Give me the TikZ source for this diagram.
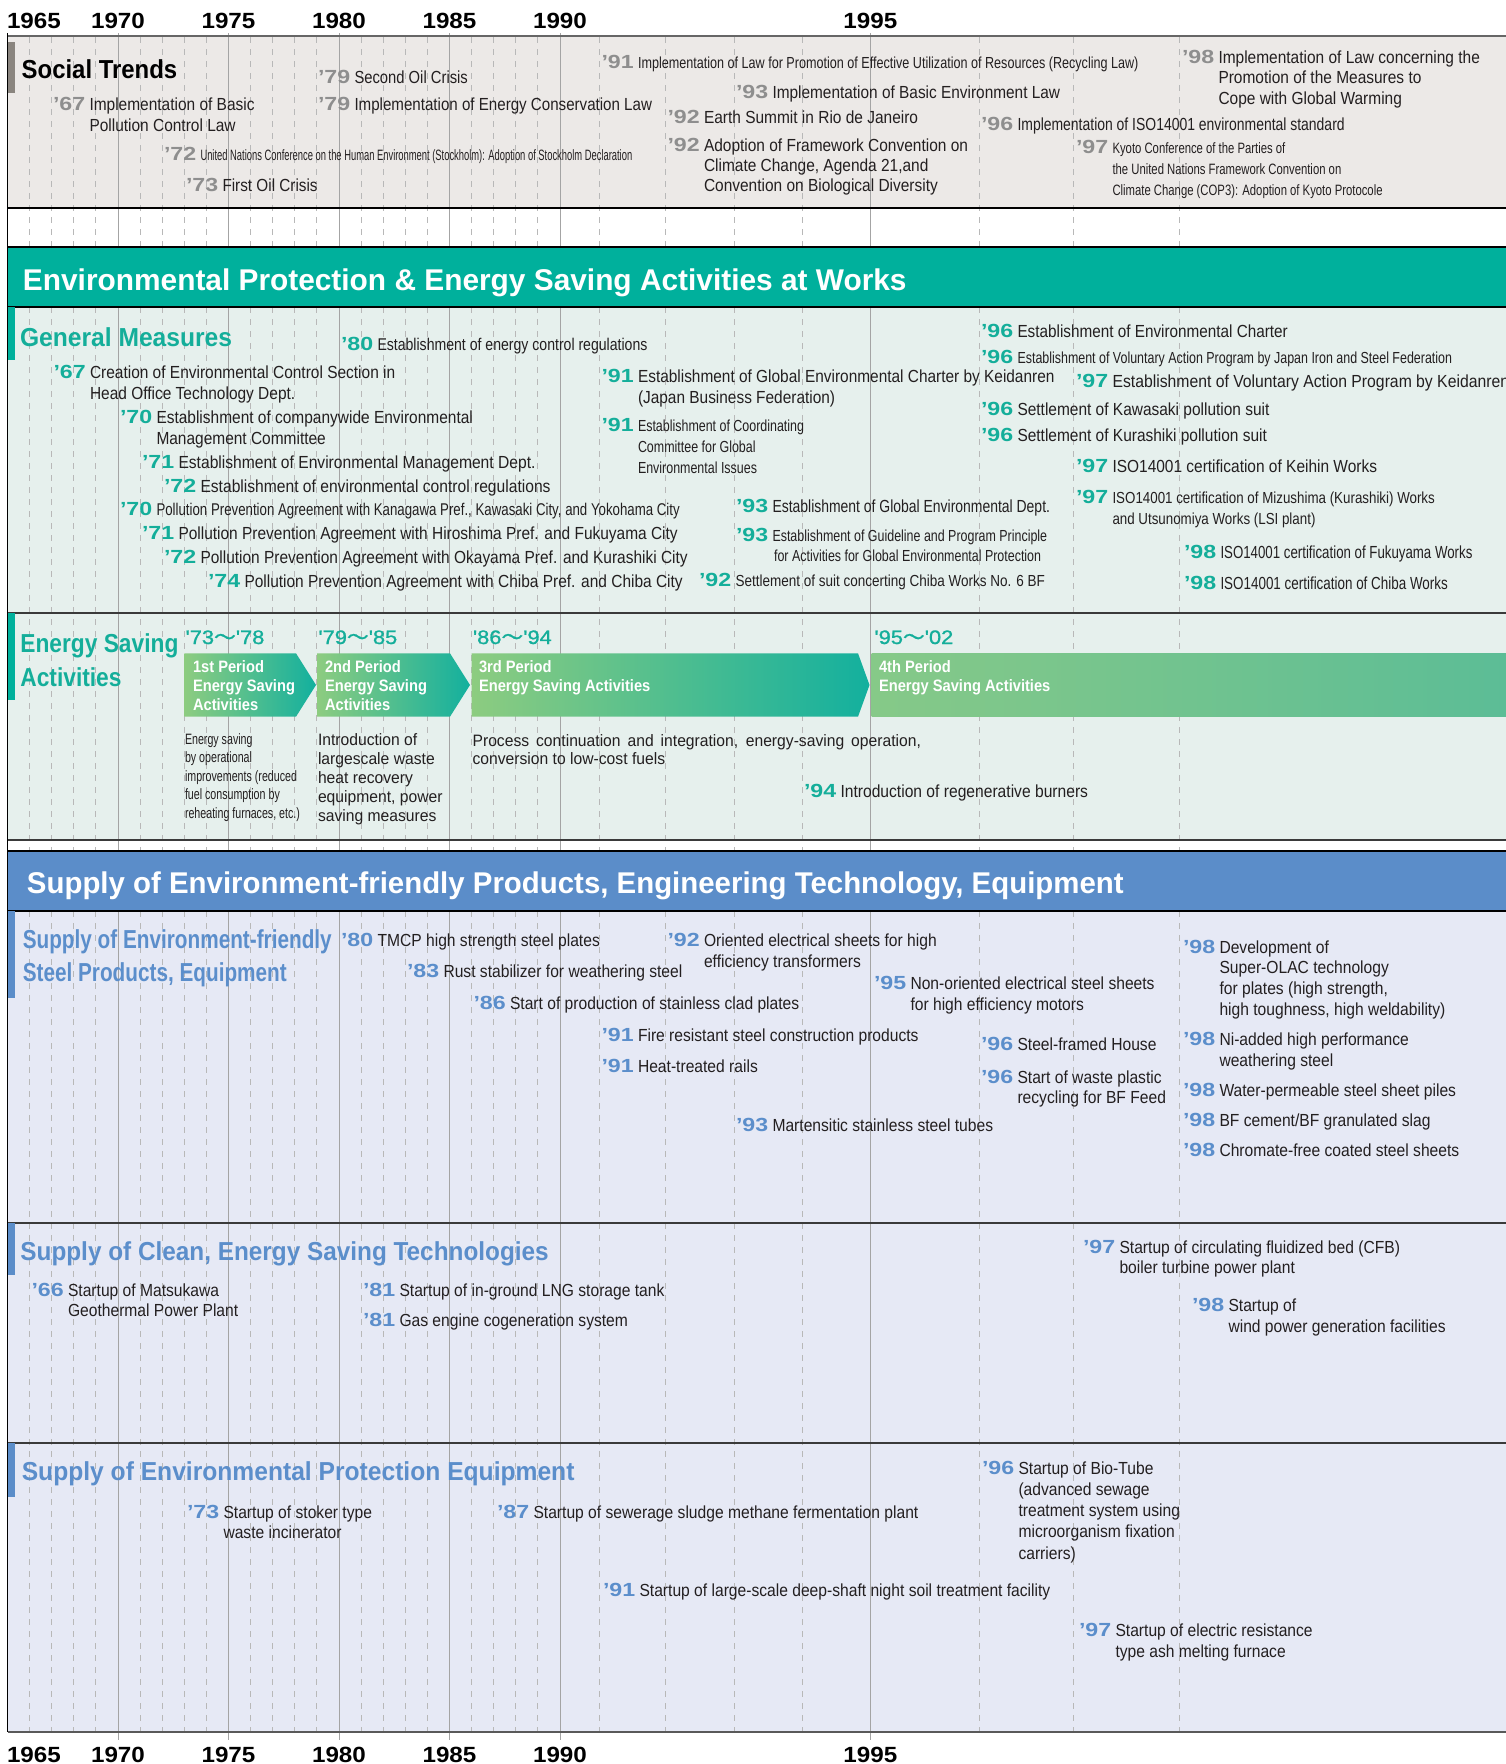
\documentclass[tikz,border=0pt]{standalone}
\usepackage{fontspec}
\usepackage{graphicx}
\setmainfont{Liberation Sans}
\newfontfamily\cjk{Noto Sans CJK JP}[FakeBold=1]
\newfontfamily\lbf{Liberation Sans}[FakeBold=1]
\definecolor{stbg}{HTML}{ECE9E7}
\definecolor{gnbg}{HTML}{E6F0ED}
\definecolor{blbg}{HTML}{E6E9F5}
\definecolor{tealhd}{HTML}{00B09C}
\definecolor{bluehd}{HTML}{5B8DC9}
\definecolor{tealtx}{HTML}{14AE9A}
\definecolor{bluetx}{HTML}{5B8ECB}
\definecolor{graypf}{HTML}{8E8E8E}
\definecolor{gridc}{HTML}{B8B8B8}
\definecolor{ylinec}{HTML}{A4A4A4}
\definecolor{stbar}{HTML}{8A857F}
\definecolor{txt}{HTML}{231F20}
\definecolor{sepc}{HTML}{3A3A3A}
\definecolor{agl}{HTML}{8DCC80}
\definecolor{agr}{HTML}{13B09E}
\definecolor{agl4}{HTML}{86C988}
\definecolor{agr4}{HTML}{5CBD96}
\newcommand\pfx[2]{\makebox[36.5pt][l]{\textcolor{#1}{\scalebox{1.22}[1]{\fontsize{19}{20}\selectfont\bfseries ’#2}}}}
\newcommand\evlines[4]{\scalebox{#3}[1]{\fontsize{#1}{#2}\selectfont\color{txt}\begin{tabular}[t]{@{}l@{}}#4\end{tabular}}}
\newcommand\evt[6]{\pfx{#1}{#2}\evlines{#3}{#4}{#5}{#6}}
\newcommand\ttl[4]{\scalebox{#2}[1]{\fontsize{26}{#3}\selectfont\bfseries\color{#1}\begin{tabular}[t]{@{}l@{}}#4\end{tabular}}}
\newcommand\yrl[1]{\scalebox{1.1}[1]{\fontsize{22}{24}\selectfont\bfseries #1}}
\newcommand\per[2]{\textcolor{tealtx}{\scalebox{1.12}[1]{\fontsize{19.5}{20}\selectfont\lbf '#1{\cjk ～}'#2}}}
\newcommand\arrtxt[1]{\scalebox{0.89}[1]{\fontsize{16.5}{19}\selectfont\bfseries\color{white}\begin{tabular}[t]{@{}l@{}}#1\end{tabular}}}
\tikzset{
  dgrid/.style={draw=gridc, line width=0.9pt, dash pattern=on 6pt off 6pt},
  sgrid/.style={draw=ylinec, line width=1pt},
  evn/.style={anchor=base west, inner sep=0pt, outer sep=0pt},
  yrn/.style={anchor=base, inner sep=0pt, outer sep=0pt},
  sepline/.style={line width=1.2pt, draw=sepc},
}
\begin{document}
\begin{tikzpicture}[x=1pt,y=-1pt]
\useasboundingbox (0,0) rectangle (1506,1764);
\clip (0,0) rectangle (1506,1764);
\fill[white] (0,0) rectangle (1506,1764);
% backgrounds
\fill[stbg] (7.5,36) rectangle (1506,208);
\fill[gnbg] (7.5,307) rectangle (1506,840);
\fill[blbg] (7.5,911) rectangle (1506,1732);
% grid
\foreach \x in {29.6,51.7,73.8,95.9,140.1,162.2,184.3,206.4,250.6,272.7,294.8,316.9,361.1,383.2,405.3,427.4,471.6,493.7,515.8,537.9,599.6,665.5,734,802,979,1073.7,1179.6}{
  \draw[dgrid] (\x,37) -- (\x,247) (\x,307) -- (\x,851) (\x,911) -- (\x,1732);
}
\foreach \x in {118,228.5,339,449.5,560,870.4}{
  \draw[sgrid] (\x,33) -- (\x,247) (\x,307) -- (\x,851) (\x,911) -- (\x,1740);
}
% header bands
\fill[tealhd] (7.5,247) rectangle (1506,307);
\fill[bluehd] (7.5,851) rectangle (1506,911);
% separators
\draw[line width=1.6pt, draw=black!60] (7.5,36) -- (1506,36);
\draw[sepline, draw=black] (7.5,208) -- (1506,208);
\draw[sepline, draw=black] (7.5,247) -- (1506,247);
\draw[sepline, draw=black] (7.5,307) -- (1506,307);
\draw[sepline] (7.5,613) -- (1506,613);
\draw[sepline] (7.5,840) -- (1506,840);
\draw[sepline, draw=black] (7.5,851) -- (1506,851);
\draw[sepline, draw=black] (7.5,911) -- (1506,911);
\draw[sepline] (7.5,1223) -- (1506,1223);
\draw[sepline] (7.5,1443) -- (1506,1443);
\draw[line width=2.4pt, draw=black!65] (7.5,1732) -- (1506,1732);
% accent bars
\fill[stbar] (7.5,41.7) rectangle (15,93.3);
\fill[tealhd] (7.5,307) rectangle (14.5,360);
\fill[tealhd] (7.5,613) rectangle (14.5,700);
\fill[bluehd] (7.5,911) rectangle (14.5,998);
\fill[bluehd] (7.5,1223) rectangle (14.5,1275);
\fill[bluehd] (7.5,1443) rectangle (14.5,1497);
% left border
\draw[line width=1.3pt, draw=black] (7.5,33) -- (7.5,1732);
% year labels
\node[evn] (ty65) at (7,28.3) {\yrl{1965}};
\node[yrn] (ty70) at (118,28.3) {\yrl{1970}};
\node[yrn] (ty75) at (228.5,28.3) {\yrl{1975}};
\node[yrn] (ty80) at (339,28.3) {\yrl{1980}};
\node[yrn] (ty85) at (449.5,28.3) {\yrl{1985}};
\node[yrn] (ty90) at (560,28.3) {\yrl{1990}};
\node[yrn] (ty95) at (870.4,28.3) {\yrl{1995}};
\node[evn] (by65) at (7,1762) {\yrl{1965}};
\node[yrn] (by70) at (118,1762) {\yrl{1970}};
\node[yrn] (by75) at (228.5,1762) {\yrl{1975}};
\node[yrn] (by80) at (339,1762) {\yrl{1980}};
\node[yrn] (by85) at (449.5,1762) {\yrl{1985}};
\node[yrn] (by90) at (560,1762) {\yrl{1990}};
\node[yrn] (by95) at (870.4,1762) {\yrl{1995}};
% headers
\node[evn] (hd1) at (23,290) {\scalebox{0.995}[1]{\fontsize{30}{32}\selectfont\bfseries\color{white}Environmental Protection \& Energy Saving Activities at Works}};
\node[evn] (hd2) at (27,893) {\scalebox{0.98}[1]{\fontsize{30}{32}\selectfont\bfseries\color{white}Supply of Environment-friendly Products, Engineering Technology, Equipment}};
% titles
\node[evn] (tST) at (21.7,78.3) {\ttl{black}{0.92}{30}{Social Trends}};
\node[evn] (tGM) at (20,346) {\ttl{tealtx}{0.947}{30}{General Measures}};
\node[evn] (tES) at (20.4,652.7) {\ttl{tealtx}{0.875}{33.5}{Energy Saving\\Activities}};
\node[evn] (tSP) at (22.8,948.3) {\ttl{bluetx}{0.798}{33.4}{Supply of Environment-friendly\\Steel Products, Equipment}};
\node[evn] (tCT) at (20.4,1260) {\ttl{bluetx}{0.936}{30}{Supply of Clean, Energy Saving Technologies}};
\node[evn] (tEP) at (21.8,1480.7) {\ttl{bluetx}{0.947}{30}{Supply of Environmental Protection Equipment}};
% Social trends
\node[evn] (s91) at (601.5,68) {\evt{graypf}{91}{16}{18}{0.7875}{Implementation of Law for Promotion of Effective Utilization of Resources (Recycling Law)}};
\node[evn] (s79a) at (318,83.3) {\evt{graypf}{79}{17.5}{20.5}{0.845}{Second Oil Crisis}};
\node[evn] (s67) at (53,110.7) {\evt{graypf}{67}{17.5}{20.3}{0.884}{Implementation of Basic\\Pollution Control Law}};
\node[evn] (s79b) at (318,110.7) {\evt{graypf}{79}{17.5}{20.5}{0.864}{Implementation of Energy Conservation Law}};
\node[evn] (s72) at (164,160) {\evt{graypf}{72}{15}{16}{0.625}{United Nations Conference on the Human Environment (Stockholm): Adoption of Stockholm Declaration}};
\node[evn] (s73) at (186,191) {\evt{graypf}{73}{17.5}{20}{0.874}{First Oil Crisis}};
\node[evn] (s93) at (736,98) {\evt{graypf}{93}{17.5}{20}{0.88}{Implementation of Basic Environment Law}};
\node[evn] (s92a) at (667.5,123) {\evt{graypf}{92}{17.5}{20}{0.884}{Earth Summit in Rio de Janeiro}};
\node[evn] (s92b) at (667.5,151) {\evt{graypf}{92}{17.5}{20}{0.884}{Adoption of Framework Convention on\\Climate Change, Agenda 21,and\\Convention on Biological Diversity}};
\node[evn] (s96) at (981,130) {\evt{graypf}{96}{17.5}{20}{0.797}{Implementation of ISO14001 environmental standard}};
\node[evn] (s97) at (1076,153) {\evt{graypf}{97}{15}{21.3}{0.754}{Kyoto Conference of the Parties of\\the United Nations Framework Convention on\\Climate Change (COP3): Adoption of Kyoto Protocole}};
\node[evn] (s98) at (1182,63) {\evt{graypf}{98}{17.5}{20.7}{0.884}{Implementation of Law concerning the\\Promotion of the Measures to\\Cope with Global Warming}};
% General measures
\node[evn] (g80) at (341,350) {\evt{tealtx}{80}{17}{20}{0.828}{Establishment of energy control regulations}};
\node[evn] (g67) at (53.5,378) {\evt{tealtx}{67}{17.5}{21}{0.884}{Creation of Environmental Control Section in\\Head Office Technology Dept.}};
\node[evn] (g70a) at (120,423.5) {\evt{tealtx}{70}{17.5}{20.5}{0.884}{Establishment of companywide Environmental\\Management Committee}};
\node[evn] (g71a) at (142,468) {\evt{tealtx}{71}{17.5}{20}{0.893}{Establishment of Environmental Management Dept.}};
\node[evn] (g72a) at (164,492) {\evt{tealtx}{72}{17.5}{20}{0.893}{Establishment of environmental control regulations}};
\node[evn] (g70b) at (120,515) {\evt{tealtx}{70}{17}{20}{0.78}{Pollution Prevention Agreement with Kanagawa Pref., Kawasaki City, and Yokohama City}};
\node[evn] (g71b) at (142,539) {\evt{tealtx}{71}{17.5}{20}{0.884}{Pollution Prevention Agreement with Hiroshima Pref. and Fukuyama City}};
\node[evn] (g72b) at (164,563) {\evt{tealtx}{72}{17.5}{20}{0.884}{Pollution Prevention Agreement with Okayama Pref. and Kurashiki City}};
\node[evn] (g74) at (208,587) {\evt{tealtx}{74}{17.5}{20}{0.884}{Pollution Prevention Agreement with Chiba Pref. and Chiba City}};
\node[evn] (g91a) at (601.5,382) {\evt{tealtx}{91}{17.5}{21.3}{0.881}{Establishment of Global Environmental Charter by Keidanren\\(Japan Business Federation)}};
\node[evn] (g91b) at (601.5,431.5) {\evt{tealtx}{91}{16}{21}{0.778}{Establishment of Coordinating\\Committee for Global\\Environmental Issues}};
\node[evn] (g93a) at (736,512) {\evt{tealtx}{93}{17.5}{20}{0.797}{Establishment of Global Environmental Dept.}};
\node[evn] (g93b) at (736,541) {\evt{tealtx}{93}{16}{20.5}{0.778}{Establishment of Guideline and Program Principle\\\hspace{2pt}for Activities for Global Environmental Protection}};
\node[evn] (g92) at (699,586.5) {\evt{tealtx}{92}{16}{20}{0.844}{Settlement of suit concerting Chiba Works No. 6 BF}};
\node[evn] (g96a) at (981,337.5) {\evt{tealtx}{96}{17.5}{20}{0.874}{Establishment of Environmental Charter}};
\node[evn] (g96b) at (981,363) {\evt{tealtx}{96}{16}{20}{0.778}{Establishment of Voluntary Action Program by Japan Iron and Steel Federation}};
\node[evn] (g97a) at (1076,387.3) {\evt{tealtx}{97}{17.5}{20}{0.9}{Establishment of Voluntary Action Program by Keidanren}};
\node[evn] (g96c) at (981,415) {\evt{tealtx}{96}{17.5}{20}{0.884}{Settlement of Kawasaki pollution suit}};
\node[evn] (g96d) at (981,441) {\evt{tealtx}{96}{17.5}{20}{0.884}{Settlement of Kurashiki pollution suit}};
\node[evn] (g97b) at (1076,472.7) {\evt{tealtx}{97}{17.5}{20}{0.884}{ISO14001 certification of Keihin Works}};
\node[evn] (g97c) at (1076,503.5) {\evt{tealtx}{97}{16}{21}{0.834}{ISO14001 certification of Mizushima (Kurashiki) Works\\and Utsunomiya Works (LSI plant)}};
\node[evn] (g98a) at (1184,558.3) {\evt{tealtx}{98}{17.5}{20}{0.758}{ISO14001 certification of Fukuyama Works}};
\node[evn] (g98b) at (1184,589.3) {\evt{tealtx}{98}{17.5}{20}{0.767}{ISO14001 certification of Chiba Works}};
% Energy saving arrows
\shade[left color=agl, right color=agr] (184.3,653.3) -- (296,653.3) -- (316,685) -- (296,716.7) -- (184.3,716.7) -- cycle;
\shade[left color=agl, right color=agr] (317,653.3) -- (450,653.3) -- (470,685) -- (450,716.7) -- (317,716.7) -- cycle;
\shade[left color=agl, right color=agr] (471.6,653.3) -- (858,653.3) -- (869.5,685) -- (858,716.7) -- (471.6,716.7) -- cycle;
\shade[left color=agl4, right color=agr4] (871.5,653.3) rectangle (1506,716.7);
\node[evn] (p1l) at (185.6,644) {\per{73}{78}};
\node[evn] (p2l) at (318.5,644) {\per{79}{85}};
\node[evn] (p3l) at (473,644) {\per{86}{94}};
\node[evn] (p4l) at (874.5,644) {\per{95}{02}};
\node[evn] (a1t) at (193,672) {\arrtxt{1st Period\\Energy Saving\\Activities}};
\node[evn] (a2t) at (325,672) {\arrtxt{2nd Period\\Energy Saving\\Activities}};
\node[evn] (a3t) at (479,672) {\arrtxt{3rd Period\\Energy Saving Activities}};
\node[evn] (a4t) at (879,672) {\arrtxt{4th Period\\Energy Saving Activities}};
\node[evn] (d1) at (185,744) {\evlines{15}{18.5}{0.711}{Energy saving\\by operational\\improvements (reduced\\fuel consumption by\\reheating furnaces, etc.)}};
\node[evn] (d2) at (318,745.5) {\evlines{16.5}{19}{0.95}{Introduction of\\largescale waste\\heat recovery\\equipment, power\\saving measures}};
\node[evn] (d3) at (472.6,746) {\evlines{16.5}{18}{0.95}{\makebox[472pt][s]{Process continuation and integration, energy-saving operation,}\\conversion to low-cost fuels}};
\node[evn] (e94) at (804,797) {\evt{tealtx}{94}{17.5}{20}{0.893}{Introduction of regenerative burners}};
% Products
\node[evn] (p80) at (341,946) {\evt{bluetx}{80}{17.5}{20}{0.893}{TMCP high strength steel plates}};
\node[evn] (p83) at (407,977) {\evt{bluetx}{83}{17.5}{20}{0.893}{Rust stabilizer for weathering steel}};
\node[evn] (p86) at (473.5,1009) {\evt{bluetx}{86}{17.5}{20}{0.893}{Start of production of stainless clad plates}};
\node[evn] (p91a) at (601.5,1041) {\evt{bluetx}{91}{17.5}{20}{0.893}{Fire resistant steel construction products}};
\node[evn] (p91b) at (601.5,1072.5) {\evt{bluetx}{91}{17.5}{20}{0.893}{Heat-treated rails}};
\node[evn] (p93) at (736,1131.5) {\evt{bluetx}{93}{17.5}{20}{0.893}{Martensitic stainless steel tubes}};
\node[evn] (p92) at (667.5,946) {\evt{bluetx}{92}{17.5}{21}{0.893}{Oriented electrical sheets for high\\efficiency transformers}};
\node[evn] (p95) at (874,989) {\evt{bluetx}{95}{17.5}{21}{0.893}{Non-oriented electrical steel sheets\\for high efficiency motors}};
\node[evn] (p96a) at (981,1050.5) {\evt{bluetx}{96}{17.5}{20}{0.893}{Steel-framed House}};
\node[evn] (p96b) at (981,1083) {\evt{bluetx}{96}{17.5}{20}{0.893}{Start of waste plastic\\recycling for BF Feed}};
\node[evn] (p98a) at (1183,953) {\evt{bluetx}{98}{17.5}{20.8}{0.893}{Development of\\Super-OLAC technology\\for plates (high strength,\\high toughness, high weldability)}};
\node[evn] (p98b) at (1183,1045.5) {\evt{bluetx}{98}{17.5}{20.5}{0.893}{Ni-added high performance\\weathering steel}};
\node[evn] (p98c) at (1183,1096) {\evt{bluetx}{98}{17.5}{20}{0.893}{Water-permeable steel sheet piles}};
\node[evn] (p98d) at (1183,1126) {\evt{bluetx}{98}{17.5}{20}{0.893}{BF cement/BF granulated slag}};
\node[evn] (p98e) at (1183,1156) {\evt{bluetx}{98}{17.5}{20}{0.893}{Chromate-free coated steel sheets}};
% Clean technologies
\node[evn] (c66) at (31.5,1296.5) {\evt{bluetx}{66}{17.5}{20}{0.893}{Startup of Matsukawa\\Geothermal Power Plant}};
\node[evn] (c81a) at (363,1296.5) {\evt{bluetx}{81}{17.5}{20}{0.893}{Startup of in-ground LNG storage tank}};
\node[evn] (c81b) at (363,1326.5) {\evt{bluetx}{81}{17.5}{20}{0.893}{Gas engine cogeneration system}};
\node[evn] (c97) at (1083,1253) {\evt{bluetx}{97}{17.5}{20}{0.893}{Startup of circulating fluidized bed (CFB)\\boiler turbine power plant}};
\node[evn] (c98) at (1192,1311) {\evt{bluetx}{98}{17.5}{21.5}{0.893}{Startup of\\wind power generation facilities}};
% Protection equipment
\node[evn] (e73) at (187,1518) {\evt{bluetx}{73}{17.5}{20}{0.893}{Startup of stoker type\\waste incinerator}};
\node[evn] (e87) at (497,1518) {\evt{bluetx}{87}{17.5}{20}{0.893}{Startup of sewerage sludge methane fermentation plant}};
\node[evn] (e96) at (982,1474) {\evt{bluetx}{96}{17.5}{21.3}{0.893}{Startup of Bio-Tube\\(advanced sewage\\treatment system using\\microorganism fixation\\carriers)}};
\node[evn] (e91) at (603,1596) {\evt{bluetx}{91}{17.5}{20}{0.893}{Startup of large-scale deep-shaft night soil treatment facility}};
\node[evn] (e97) at (1079,1636.5) {\evt{bluetx}{97}{17.5}{21}{0.893}{Startup of electric resistance\\type ash melting furnace}};
\end{tikzpicture}
\end{document}
